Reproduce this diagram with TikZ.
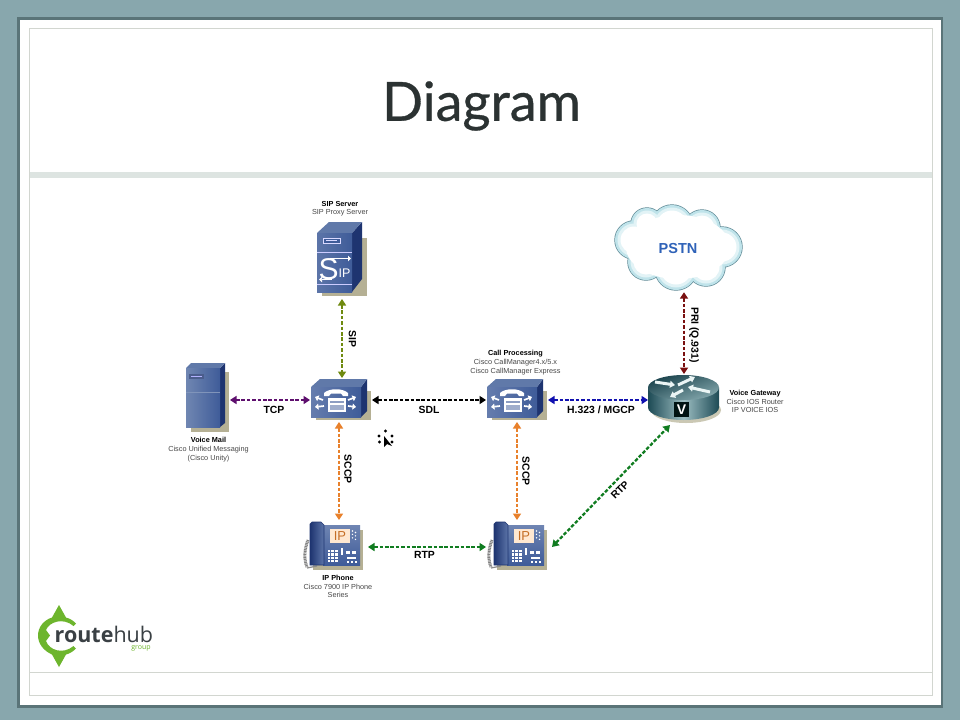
\documentclass[tikz,border=0pt]{standalone}
\usepackage{fontspec}
\setmainfont{Liberation Sans}
\newfontfamily\titlefont[FakeBold=0.6]{Lato}
\newfontfamily\logofont{Open Sans}
\usetikzlibrary{arrows.meta}
\definecolor{framebg}{HTML}{88A7AD}
\definecolor{frameshadow}{HTML}{5A7478}
\definecolor{rule}{HTML}{D2D6D0}
\definecolor{band}{HTML}{DDE4E1}
\definecolor{ink}{HTML}{2B3232}
\definecolor{bluefront}{HTML}{3F5C99}
\definecolor{bluetop}{HTML}{6079A9}
\definecolor{blueside}{HTML}{1E3470}
\definecolor{tanshade}{HTML}{B5B094}
\definecolor{olivelink}{HTML}{6F8A10}
\definecolor{purplelink}{HTML}{5E0F6E}
\definecolor{bluelink}{HTML}{1010B0}
\definecolor{redlink}{HTML}{7A1010}
\definecolor{orangelink}{HTML}{E8812C}
\definecolor{greenlink}{HTML}{107C20}
\definecolor{logogreen}{HTML}{6DB52D}
\definecolor{logoink}{HTML}{3A4044}
\definecolor{pstnblue}{HTML}{2F62B8}
\definecolor{routerdark}{HTML}{1D4A55}
\definecolor{routerlight}{HTML}{9DBEC2}
\definecolor{cloudedge}{HTML}{5F8A96}
\definecolor{cloudouter}{HTML}{BFE3EA}
\definecolor{cloudmid}{HTML}{E2F3F6}
\tikzset{
  x=1pt,y=-1pt,
  slot/.style={inner sep=0pt,outer sep=0pt,minimum width=#1},
  link/.style={line width=2.3pt,dash pattern=on 3.6pt off 1.8pt,{Triangle[length=6.5pt,width=8pt]}-{Triangle[length=6.5pt,width=8pt]},draw=#1,color=#1},
  heavy/.style={font=\fontsize{10.4}{12}\selectfont\bfseries,text=black,inner sep=0pt},
  small/.style={font=\fontsize{7.3}{8.7}\selectfont,text=black!72,align=center,inner sep=0pt},
}
\newcommand{\smallb}[1]{{\bfseries\color{black}#1}}
\newcommand{\cloudlayer}[2]{%
 \foreach \cx/\cy/\cr in {634/240/19,647/224/16,672/226/21,702/228/18,722/247/20,706/267/19,676/269/21,646/262/18,678/248/30}{
   \fill[#1] (\cx,\cy) circle ({\cr+#2});
 }}
\newcommand{\cmicon}[2]{%
\begin{scope}[shift={(#1,#2)}]
 \fill[tanshade] (5,12) -- (60,12) -- (60,41) -- (5,41) -- cycle;
 \fill[blueside] (50,8) -- (56,0) -- (56,32) -- (50,38) -- cycle;
 \fill[bluetop] (0,8) -- (9,0) -- (56,0) -- (50,8) -- cycle;
 \shade[left color=bluefront!80!white,right color=bluefront] (0,8) -- (50,8) -- (50,38) -- (0,38) -- cycle;
 \fill[white] (13,14) .. controls (18,9) and (32,9) .. (37,14) -- (37,17) -- (32,17) -- (30,14.5) -- (20,14.5) -- (18,17) -- (13,17) -- cycle;
 \fill[white] (17,19) rectangle (35,33);
 \fill[bluefront!60!white] (19,22) rectangle (33,24);
 \fill[bluefront!50!white] (19,26) rectangle (33,31);
 \foreach \ax/\ay/\bx/\by in {12/21/4/18,13/27/4/28,37/21/45/18,37/27/45/28}{
   \draw[white,line width=1.7pt,-{Triangle[length=3.5pt,width=6pt]}] (\ax,\ay) -- (\bx,\by);
 }
\end{scope}}
\newcommand{\phoneicon}[2]{%
\begin{scope}[shift={(#1,#2)}]
 \fill[tanshade] (10,8) rectangle (60,48);
 \draw[black!50,line width=3pt,dash pattern=on 1pt off .6pt] (5,18) .. controls (1,28) and (1,38) .. (4,45);
 \draw[black!45,line width=1.2pt] (4,46) -- (14,44);
 \shade[top color=bluefront!75!white,bottom color=bluefront] (20,3) rectangle (57,43);
 \shade[left color=blueside,right color=bluefront!85!white,draw=blueside,line width=.6pt] (7,2) -- (9,0) -- (18,0) -- (21,3) -- (21,43) -- (7,43) -- cycle;
 \fill[white!82!orange] (27,7) rectangle (47,21);
 \node[inner sep=0pt,font=\fontsize{13}{13}\selectfont,text=orangelink!85!black] at (37,14.5) {IP};
 \foreach \i in {0,1,2}{\foreach \j in {0,1,2,3}{\fill[white] (24.5+\i*3.8,28+\j*3.3) rectangle +(2.6,2.2);}}
 \fill[white] (38,26) rectangle (40,33);
 \fill[white] (43,29) rectangle (47,32);\fill[white] (49,29) rectangle (53,32);
 \fill[white] (44,35) rectangle (53,36.5);
 \fill[white] (44,39) rectangle (46,41);\fill[white] (48,39) rectangle (50,41);\fill[white] (52,39) rectangle (54,41);
 \foreach \j in {0,1,2}{\fill[white] (49.5,9+\j*3.4) circle (.8);\fill[white] (52.5,10.5+\j*3.4) circle (.8);}
\end{scope}}
\begin{document}
\begin{tikzpicture}
\useasboundingbox (0,0) rectangle (960,720);
% slide
\fill[framebg] (0,0) rectangle (960,720);
\fill[frameshadow] (17,17) rectangle (943,708);
\fill[white] (20,20) rectangle (940.5,705);
\draw[rule,line width=.8pt] (29.5,28.5) rectangle (932.5,695.5);
\fill[band] (30,172) rectangle (932,178);
\draw[rule,line width=.8pt] (30,672) -- (932.5,672);
\node (title) at (481.5,106) [inner sep=0pt,text=ink,font=\fontsize{54}{54}\titlefont] {Diagram};

% SIP server
\fill[tanshade] (322,238) rectangle (367,296);
\fill[blueside] (352,233) -- (362,222) -- (362,279) -- (352,292) -- cycle;
\fill[bluetop] (317,233) -- (329,222) -- (362,222) -- (352,233) -- cycle;
\shade[left color=bluefront!85!white,right color=bluefront] (317,233) rectangle (352,292);
\draw[white!85!blue,line width=.9pt,fill=bluefront] (323,238) rectangle (340,243);
\fill[white!85!blue] (326,240) rectangle (337,241);
\draw[white!80!blue,line width=.9pt] (317,252) -- (352,252);
\draw[white!80!blue,line width=.9pt] (317,284) -- (352,284);
\node[inner sep=0pt,text=white,font=\fontsize{30}{30}\selectfont] at (328.5,269) {S};
\node[inner sep=0pt,text=white,font=\fontsize{12.5}{13}\selectfont] at (344.5,273) {IP};
\draw[white,line width=1.2pt,-{Triangle[length=3pt,width=5.5pt]}] (330,258.5) -- (351,258.5);
\draw[white,line width=1.2pt,-{Triangle[length=3pt,width=5.5pt]}] (332,279.5) -- (319,279.5);
\node[slot=50pt,minimum height=77pt] (sip) at (342,260.5) {};
\node[small,anchor=south] (siplabel) at (340,216.5) {\smallb{SIP Server}\\SIP Proxy Server};

% Voice mail
\fill[tanshade] (191,372) rectangle (229,432);
\fill[blueside] (220,368) -- (225,363) -- (225,423) -- (220,427) -- cycle;
\fill[bluetop] (186,368) -- (191,363) -- (225,363) -- (220,368) -- cycle;
\shade[left color=bluetop!90,right color=bluefront] (186,368) rectangle (220,427);
\fill[blueside!80] (189,374) rectangle (204,379);
\fill[white!70!blue] (191,375.5) rectangle (202,377);
\draw[bluetop!80!white,line width=.5pt] (186,392) -- (220,392);
\node[slot=44pt,minimum height=69pt] (vm) at (208,400) {};
\node[small,anchor=north] (vmlabel) at (208.5,437.5) {\smallb{Voice Mail}\\Cisco Unified Messaging\\(Cisco Unity)};

% Call managers
\cmicon{311}{379}
\cmicon{487}{379}
\node[slot=62pt,minimum height=44pt] (cma) at (341,400) {};
\node[slot=62pt,minimum height=44pt] (cmb) at (517,400) {};
\node[small,anchor=south] (cmlabel) at (515.5,375) {\smallb{Call Processing}\\Cisco CallManager4.x/5.x\\Cisco CallManager Express};

% Phones
\phoneicon{303}{522}
\phoneicon{487}{522}
\node[slot=58pt,minimum height=54pt] (pha) at (339,547) {};
\node[slot=66pt,minimum height=54pt] (phb) at (519,547) {};
\node[small,anchor=north] (phlabel) at (338,575) {\smallb{IP Phone}\\Cisco 7900 IP Phone\\Series};

% Router
\fill[tanshade!70] (686,410) ellipse (35 and 13);
\shade[left color=routerdark,right color=routerdark,middle color=routerlight]
  (648,387.5) -- (648,407.5) arc[start angle=180,end angle=360,x radius=35.5,y radius=-12.5] -- (719,387.5) -- cycle;
\shade[top color=routerdark!90!black,bottom color=routerlight!80!routerdark,shading angle=20] (683.5,387.5) ellipse (35.5 and 12.5);
\foreach \ax/\ay/\bx/\by in {655/382/675/385,683/390/670/397,678/385/695/377,710/392/688/387}{
  \draw[white!92!teal,line width=3pt,{Triangle[length=5pt,width=7pt]}-] (\bx,\by) -- (\ax,\ay);
}
\fill[black!85!teal] (674,402) rectangle (689,417);
\node[inner sep=0pt,text=white,font=\fontsize{14}{14}\selectfont\bfseries] at (681.5,409.5) {V};
\node[slot=72pt,minimum height=52pt] (gw) at (684,400) {};
\node[small,anchor=west] (gwlabel) at (726.5,401.5) {\smallb{Voice Gateway}\\Cisco IOS Router\\IP VOICE IOS};

% Cloud
\cloudlayer{cloudedge}{0.7}
\cloudlayer{cloudouter}{0}
\cloudlayer{cloudmid}{-2.5}
\cloudlayer{white}{-5.5}
\fill[white] (678,247) ellipse (52 and 32);
\node[minimum width=127pt,minimum height=88pt,inner sep=0pt] (pstn) at (678,248) {};
\node[inner sep=0pt,text=pstnblue,font=\fontsize{14.5}{15}\selectfont\bfseries] at (678,249) {PSTN};

% Connectors
\draw[link=olivelink] (sip) -- (cma.north -| sip);
\draw[link=purplelink] (vm.east) -- (cma.west);
\draw[link=black] (cma.east) -- (cmb.west);
\draw[link=bluelink] (cmb.east) -- (gw.west);
\draw[link=redlink] ([xshift=6pt]pstn.south) -- (gw.north);
\draw[link=orangelink] ([xshift=-2pt]cma.south) -- (pha.north);
\draw[link=orangelink] (cmb.south) -- ([xshift=-2pt]phb.north);
\draw[link=greenlink] (pha.east) -- (phb.west);
\draw[link=greenlink] (phb.east) -- ([xshift=-14pt,yshift=1pt]gw.south);

% Connector labels
\node[heavy,rotate=-90] (l1) at (352.5,339) {SIP};
\node[heavy] (l2) at (274,409.5) {TCP};
\node[heavy] (l3) at (429,409.5) {SDL};
\node[heavy] (l4) at (601,410) {H.323 / MGCP};
\node[heavy,rotate=-90] (l5) at (694,335) {PRI (Q.931)};
\node[heavy,rotate=-90] (l6) at (348,469) {SCCP};
\node[heavy,rotate=-90] (l7) at (526,471) {SCCP};
\node[heavy] (l8) at (424.5,555) {RTP};
\node[heavy,rotate=45] (l9) at (620,490) {RTP};

% Cursor
\fill[black] (384,436) -- (384,447) -- (387,444) -- (392,446) -- cycle;
\foreach \px/\py in {385.5/431,379/436,392/436,379.5/442,392/442}{
  \fill[black] (\px-1.6,\py) -- (\px,\py-1.6) -- (\px+1.6,\py) -- (\px,\py+1.6) -- cycle;
}

% Logo
\fill[logogreen] (59,605) -- (66,617.5) .. controls (70,618.5) and (73,620.5) .. (76,623.5)
  -- (73.5,626) .. controls (63,617) and (49,622) .. (46,630) -- (50,635.5) -- (46,641)
  .. controls (49,650) and (63,655) .. (73.5,646) -- (76,648.5) .. controls (73,651.5) and (70,653.5) .. (66,654.5)
  -- (59,667) -- (52,654.5) .. controls (44,651) and (38,644) .. (38,635.5) .. controls (38,627) and (44,620) .. (52,617.5) -- cycle;
\node[anchor=base west,inner sep=0pt,text=logoink,font=\fontsize{21.5}{21.5}\logofont\bfseries] (logo) at (54.5,642) {route\mdseries hub};
\node[anchor=base,inner sep=0pt,text=logogreen,font=\fontsize{7}{8}\logofont] (logosub) at (141,649.5) {group};
\end{tikzpicture}
\end{document}
